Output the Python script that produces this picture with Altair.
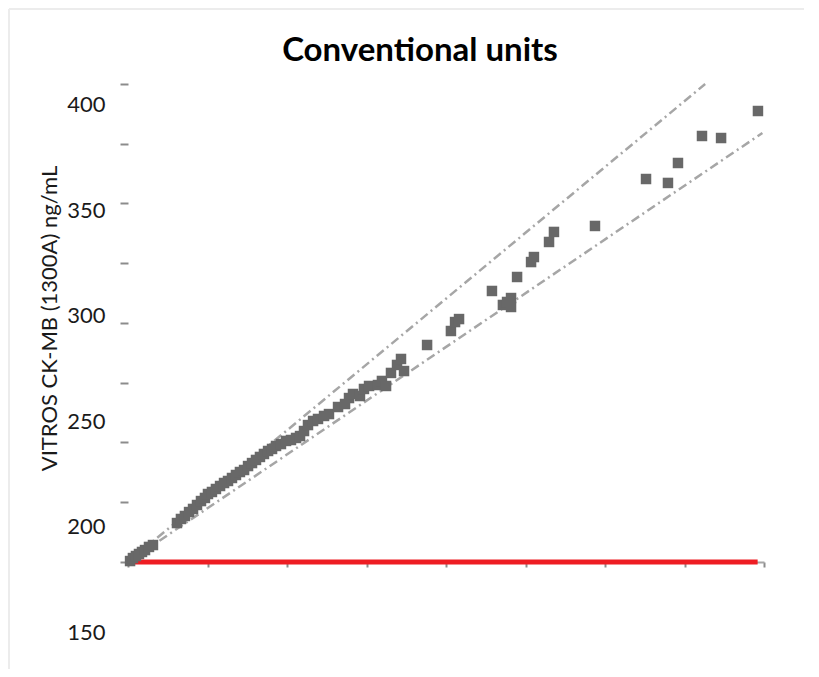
import altair as alt
import pandas as pd

# Scatter data (x = comparison method, y = VITROS CK-MB)
pt_x = [1.3, 3.1, 5.0, 6.9, 8.8, 10.7, 13.2, 15.7, 30.8, 33.3, 35.8, 38.4, 40.9, 43.4,
        45.9, 48.4, 50.3, 52.8, 55.3, 57.9, 60.4, 62.9, 65.4, 67.9, 70.4, 73.0, 75.5,
        78.0, 80.5, 83.0, 85.5, 88.1, 90.6, 93.1, 96.2, 99.4, 102.5, 105.7, 108.2,
        110.7, 113.2, 116.4, 119.5, 123.3, 126.4, 132.1, 136.5, 139.0, 141.5, 145.9,
        148.4, 151.6, 157.2, 159.7, 162.3, 165.4, 169.2, 171.7, 173.6, 188.1, 203.1,
        205.7, 208.2, 228.9, 235.8, 238.4, 240.9, 240.9, 244.7, 253.5, 255.3, 264.8,
        267.9, 293.7, 325.8, 339.6, 345.9, 361.0, 373.0, 396.2]
pt_y = [0.8, 3.3, 5.0, 6.7, 8.4, 10.0, 12.6, 14.2, 32.6, 36.0, 38.5, 41.8, 44.4, 47.7,
        51.0, 53.6, 56.9, 58.6, 61.1, 63.6, 66.1, 67.8, 70.3, 72.8, 75.3, 77.0, 80.3,
        82.8, 85.4, 87.9, 90.4, 92.9, 94.6, 97.1, 98.7, 101.3, 102.1, 103.8, 105.4,
        109.6, 114.6, 118.0, 119.7, 122.2, 123.8, 129.7, 132.2, 137.2, 140.6, 138.9,
        144.8, 147.3, 148.1, 151.5, 147.3, 158.2, 164.9, 169.9, 159.8, 181.6, 193.3,
        200.8, 203.3, 226.8, 215.1, 217.6, 220.9, 213.4, 238.5, 251.0, 255.2, 267.8,
        276.2, 281.2, 320.5, 317.2, 333.9, 356.5, 354.8, 377.4]

# +/-10% limit lines and red reference line
upper_x = [0, 363]
upper_y = [0, 400]
lower_x = [0, 399]
lower_y = [0, 359]
ref_x = [0, 396]
ref_y = [0, 0]

# axis tick values
tick_vals = [0, 50, 100, 150, 200, 250, 300, 350, 400]
label_vals = [150, 200, 250, 300, 350, 400]

pts = pd.DataFrame({"x": pt_x, "y": pt_y})
lines = pd.DataFrame({
    "x": upper_x + lower_x,
    "y": upper_y + lower_y,
    "s": ["upper"] * 2 + ["lower"] * 2,
})
ref = pd.DataFrame({"x": ref_x, "y": ref_y})
lab = pd.DataFrame({"v": label_vals})

FONT = "Lato"
xscale = alt.Scale(domain=[0, 400], nice=False, zero=False)
yscale = alt.Scale(domain=[-69.46, 400], nice=False, zero=False)

x_axis = alt.Axis(values=tick_vals, labels=False, title=None, grid=False,
                  domainColor="#a6a6a6", domainWidth=2, tickColor="#8c8c8c",
                  tickWidth=2, tickSize=5, offset=-83)
y_axis = alt.Axis(values=tick_vals, labels=False, title=None, grid=False,
                  domain=False, tickColor="#8c8c8c", tickWidth=2, tickSize=8,
                  orient="left")

enc_x = alt.X("x:Q", scale=xscale, axis=x_axis)
enc_y = alt.Y("y:Q", scale=yscale, axis=y_axis)

limit_lines = alt.Chart(lines).mark_line(
    color="#a6a6a6", strokeWidth=2.5, strokeDash=[9, 4, 2, 4]
).encode(x=enc_x, y=enc_y, detail="s:N")

ref_line = alt.Chart(ref).mark_line(color="#ee1d23", strokeWidth=5).encode(
    x=alt.X("x:Q", scale=xscale, axis=x_axis),
    y=alt.Y("y:Q", scale=yscale, axis=y_axis),
)

points = alt.Chart(pts).mark_square(size=110, color="#686868", opacity=1).encode(
    x=alt.X("x:Q", scale=xscale, axis=x_axis),
    y=alt.Y("y:Q", scale=yscale, axis=y_axis),
)

data_layer = alt.layer(limit_lines, ref_line, points)

label_layer = alt.Chart(lab).mark_point(opacity=0).encode(
    y=alt.Y("v:Q",
            scale=alt.Scale(domain=[144.01, 409.74], nice=False, zero=False),
            axis=alt.Axis(values=label_vals, orient="left", ticks=False, tickSize=0,
                          domain=False, grid=False, labelPadding=23,
                          labelFont=FONT, labelFontSize=22, labelColor="#1a1a1a",
                          title="VITROS CK-MB (1300A) ng/mL", titleFont=FONT,
                          titleFontSize=22, titleFontWeight="normal",
                          titleColor="#1a1a1a", titleX=-79, titleY=234,
                          titleBaseline="middle", titleAngle=270))
)

border_left = alt.Chart(ref).mark_rule(color="#ececec", strokeWidth=2).encode(
    x=alt.value(-119), y=alt.value(-75), y2=alt.value(600)
)
border_top = alt.Chart(ref).mark_rule(color="#ececec", strokeWidth=2).encode(
    x=alt.value(-119), x2=alt.value(700), y=alt.value(-75)
)

chart = alt.layer(border_left, border_top, data_layer, label_layer).resolve_scale(
    y="independent"
).properties(
    width=636, height=561,
    title=alt.TitleParams("Conventional units", font=FONT, fontSize=33,
                          fontWeight="bold", color="#000000", anchor="middle",
                          frame="group", dx=-26, dy=86, baseline="alphabetic",
                          offset=0),
    autosize=alt.AutoSizeParams(type="none"),
    padding={"left": 120, "top": 76, "right": 40, "bottom": 24},
).configure_view(stroke=None)

chart.save("out.html", embed_options={"renderer": "svg", "actions": False})
